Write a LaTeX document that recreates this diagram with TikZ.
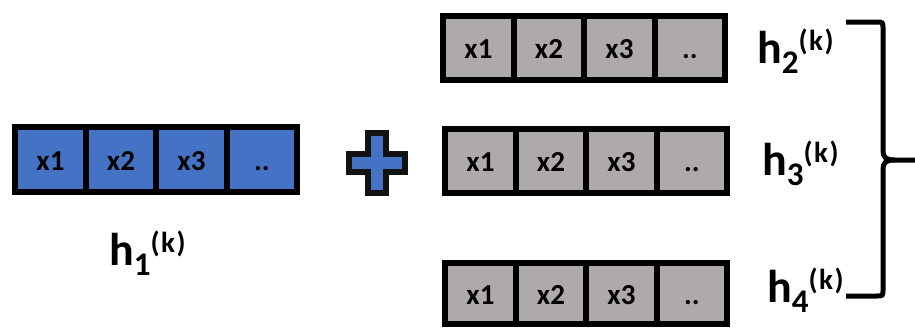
\documentclass[tikz,border=0pt]{standalone}
\usepackage{fontspec}
\setmainfont{Carlito}
\usetikzlibrary{calc}

\definecolor{vecblue}{HTML}{4472C4}
\definecolor{vecgray}{HTML}{AEAAAA}

% one vector: black frame holding four cells x1, x2, x3, ..
% #1 name, #2 left, #3 top, #4 height, #5 cell colour
\newcommand\vecrow[5]{%
  \node[frame, minimum height=#4pt, anchor=north west] (#1) at (#2,#3) {};
  \foreach \i/\t in {1/x1,2/x2,3/x3,4/..} {
    \node[cell, fill=#5, minimum height=#4pt-12pt, anchor=north west]
      (#1-\i) at ($(#1.north west)+({6+(\i-1)*70.5},6)$) {};
    \node[celltext] at ($(#1-\i.center)+(0,10.5)$) {\t};
  }%
}

% vector label h_n^(k)
\newcommand\hsym[1]{\bfseries{\fontsize{46}{46}\selectfont h}%
  \raisebox{-10pt}{\fontsize{33}{33}\selectfont #1}%
  \raisebox{13pt}{\fontsize{29}{29}\selectfont (\kern1.5pt k\kern1.5pt)}}

\begin{document}
\begin{tikzpicture}[x=1pt,y=-1pt,
  frame/.style={fill=black, draw=none, inner sep=0pt, minimum width=288pt},
  cell/.style={draw=none, inner sep=0pt, minimum width=64.5pt},
  celltext/.style={inner sep=0pt, anchor=base, font=\fontsize{29}{29}\selectfont\bfseries},
  hlabel/.style={inner sep=0pt, anchor=base west},
  brace/.style={line width=5pt, line cap=butt}]
\useasboundingbox (0,0) rectangle (915,327);

% the vectors
\vecrow{v1}{12}{124}{71}{vecblue}
\vecrow{v2}{440}{13}{70}{vecgray}
\vecrow{v3}{442}{126}{70}{vecgray}
\vecrow{v4}{442}{260}{67}{vecgray}

% labels
\node[hlabel] (l1) at (109,265) {\hsym{1}};
\node[hlabel] (l2) at (757,63) {\hsym{2}};
\node[hlabel] (l3) at (762,175) {\hsym{3}};
\node[hlabel] (l4) at (767,302) {\hsym{4}};

% plus sign
\draw[line width=6pt, draw=black!93, fill=vecblue, line join=miter]
  (349,154) -- (368,154) -- (368,132.5) -- (386,132.5) -- (386,154)
  -- (405,154) -- (405,172) -- (386,172) -- (386,193) -- (368,193)
  -- (368,172) -- (349,172) -- cycle;

% right brace grouping h2..h4
\coordinate (btop) at (846,22);
\coordinate (bbot) at (846,296);
\coordinate (btip) at (915,160);
\draw[brace] (btop) -- (876,22) .. controls (883,22) .. (883,29)
  -- (883,150) .. controls (883,158) and (886,160) .. (895,160) -- (btip);
\draw[brace] (895,160) .. controls (886,160) and (883,162) .. (883,170)
  -- (883,289) .. controls (883,296) .. (876,296) -- (bbot);
\end{tikzpicture}
\end{document}
